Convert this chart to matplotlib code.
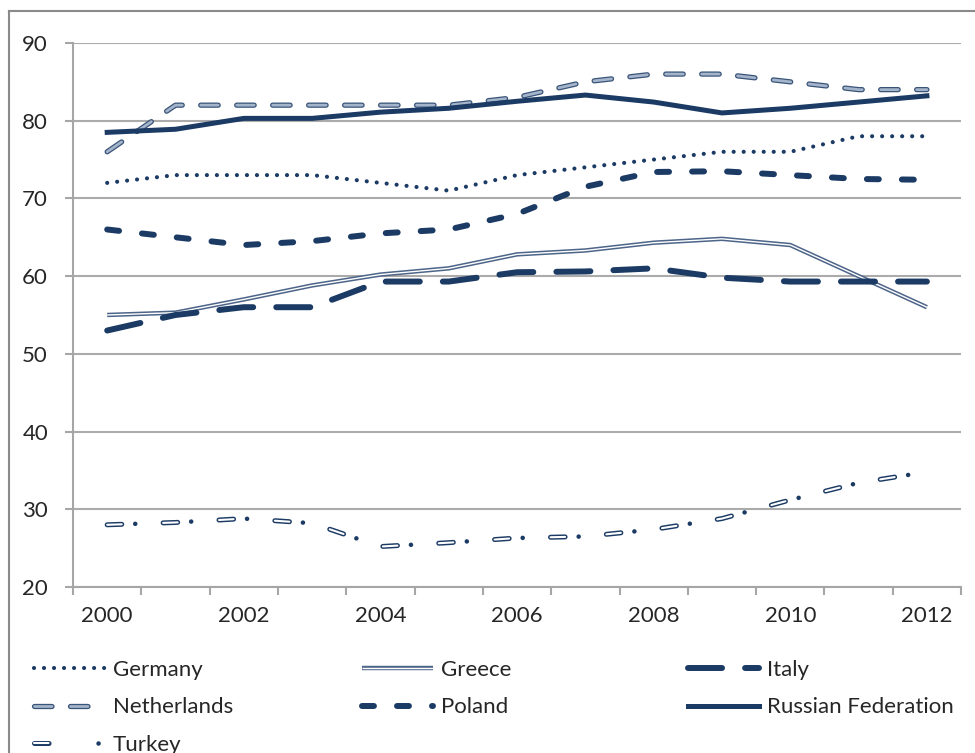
import numpy as np
import matplotlib.pyplot as plt
import matplotlib.patheffects as pe
from matplotlib.lines import Line2D
from matplotlib.legend_handler import HandlerTuple

plt.rcParams['font.family'] = ['Lato', 'DejaVu Sans']
plt.rcParams['lines.scale_dashes'] = False

years = ['2000', '2001', '2002', '2003', '2004', '2005', '2006',
         '2007', '2008', '2009', '2010', '2011', '2012']
germany = [72, 73, 73, 73, 72, 71, 73, 74, 75, 76, 76, 78, 78]
greece = [55, 55.3, 57, 58.8, 60.2, 61, 62.8, 63.3, 64.3, 64.8, 64, 60, 56]
italy = [53, 55, 56, 56, 59.3, 59.3, 60.5, 60.6, 61, 59.8, 59.3, 59.3, 59.3]
netherlands = [76, 82, 82, 82, 82, 82, 83, 85, 86, 86, 85, 84, 84]
poland = [66, 65, 64, 64.5, 65.5, 66, 68, 71.5, 73.4, 73.5, 73, 72.5, 72.4]
russia = [78.5, 78.9, 80.3, 80.3, 81.1, 81.6, 82.5, 83.3, 82.4, 81.0, 81.6, 82.4, 83.2]
turkey = [28, 28.3, 28.8, 28.2, 25.2, 25.7, 26.3, 26.5, 27.4, 28.8, 31.2, 33.4, 34.8]

navy = '#1b3a64'
txt = '#262626'
x = np.arange(len(years))

fig = plt.figure(figsize=(9.75, 7.53), dpi=100)
ax = fig.add_axes([0.0749, 0.2205, 0.9108, 0.7224])

# Germany - round dots
l_ger, = ax.plot(x, germany, color=navy, lw=3, linestyle=(0, (0.01, 7.2)),
                 dash_capstyle='round', label='Germany')
# Greece - double line
l_gre, = ax.plot(x, greece, color='white', lw=1.0, solid_capstyle='butt',
                 path_effects=[pe.Stroke(linewidth=3.2, foreground='#4d6589'), pe.Normal()])
# Italy - long dashes
l_ita, = ax.plot(x, italy, color=navy, lw=4.3, linestyle=(0, (24.5, 16.6)),
                 dash_capstyle='round')
# Netherlands - light dashes with outline
l_net, = ax.plot(x, netherlands, color='#a3b4cb', lw=2.0, linestyle=(0, (12.6, 13.3)),
                 dash_capstyle='round',
                 path_effects=[pe.Stroke(linewidth=3.8, foreground='#3a5478'), pe.Normal()])
# Poland - dashes
l_pol, = ax.plot(x, poland, color=navy, lw=4.3, linestyle=(0, (8.6, 16.6)),
                 dash_capstyle='round')
# Russian Federation - solid
l_rus, = ax.plot(x, russia, color=navy, lw=3.6, solid_joinstyle='round')
# Turkey - outlined dash + dot
l_tur1, = ax.plot(x, turkey, color='white', lw=1.5, linestyle=(0, (10.5, 29.8)),
                  dash_capstyle='round',
                  path_effects=[pe.Stroke(linewidth=3.6, foreground=navy), pe.Normal()])
l_tur2, = ax.plot(x, turkey, color=navy, lw=3.3, linestyle=(-20.2, (0.01, 40.3)),
                  dash_capstyle='round')

ax.set_xlim(-0.5, 12.5)
ax.set_ylim(20, 90)
ax.set_yticks(np.arange(20, 91, 10))
ax.set_xticks(np.arange(-0.5, 13, 1))
ax.set_xticklabels([''] * 14)
ax.set_xticks(x[::2], minor=True)
ax.set_xticklabels(years[::2], minor=True)
ax.tick_params(axis='x', which='major', length=6, width=1.5, color='#a6a6a6')
ax.tick_params(axis='x', which='minor', length=0, pad=14, labelsize=16, labelcolor=txt)
ax.tick_params(axis='y', length=6, width=1.5, color='#a6a6a6', pad=12,
               labelsize=16, labelcolor=txt)
ax.yaxis.grid(True, color='#ababab', lw=1.5)
ax.set_axisbelow(True)
for s in ['top', 'right']:
    ax.spines[s].set_visible(False)
for s in ['left', 'bottom']:
    ax.spines[s].set_color('#a6a6a6')
    ax.spines[s].set_linewidth(1.5)

# outer chart border
fig.add_artist(Line2D([9 / 975, 9 / 975], [0, 1 - 11 / 753], transform=fig.transFigure,
                      color='#8a8a8a', lw=1.5))
fig.add_artist(Line2D([9 / 975, 1], [1 - 11 / 753, 1 - 11 / 753], transform=fig.transFigure,
                      color='#8a8a8a', lw=1.5))

lkw = dict(loc='upper left', frameon=False, fontsize=16, handlelength=3.2,
           handletextpad=0.35, labelspacing=0.78, borderpad=0, borderaxespad=0,
           labelcolor=txt, handler_map={tuple: HandlerTuple(ndivide=None)})
leg1 = fig.legend([l_ger, l_net, (l_tur1, l_tur2)], ['Germany', 'Netherlands', 'Turkey'],
                  bbox_to_anchor=(34 / 975, 1 - 660 / 753), **lkw)
leg2 = fig.legend([l_gre, l_pol], ['Greece', 'Poland'],
                  bbox_to_anchor=(362 / 975, 1 - 660 / 753), **lkw)
leg3 = fig.legend([l_ita, l_rus], ['Italy', 'Russian Federation'],
                  bbox_to_anchor=(688 / 975, 1 - 660 / 753), **lkw)

fig.savefig('out.png', dpi=100)
